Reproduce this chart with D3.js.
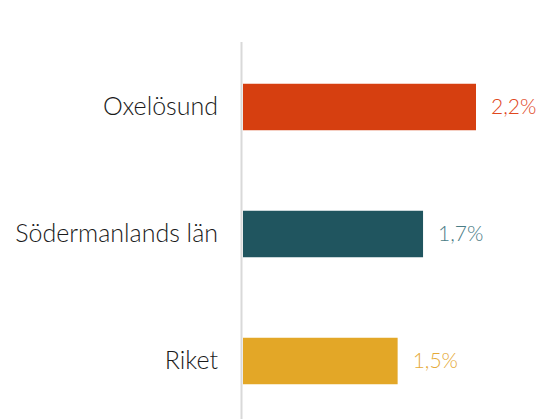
<!DOCTYPE html>
<html><head><meta charset="utf-8">
<script src="https://cdn.jsdelivr.net/npm/d3@7"></script>
<style>body{margin:0;background:#fff}svg{display:block}</style>
</head><body>
<script>
const categories = ["Oxelösund", "Södermanlands län", "Riket"];
const values = [2.2, 1.7, 1.46];
const valueLabels = ["2,2%", "1,7%", "1,5%"];
const barColors = ["#d63f10", "#20555f", "#e3a727"];
const labelColors = ["#e0481e", "#4a7d86", "#e5aa38"];

const W = 538, H = 419;
const svg = d3.select("body").append("svg").attr("width", W).attr("height", H);
const x = d3.scaleLinear().domain([0, 2.2]).range([243, 476]);
const y = d3.scaleBand().domain(categories).range([43.5, 424.5]).paddingInner(0.634).paddingOuter(0.317);

svg.append("line").attr("x1", 241.5).attr("x2", 241.5).attr("y1", 42).attr("y2", H)
  .attr("stroke", "#d9d9d9").attr("stroke-width", 2);

svg.selectAll("rect.bar").data(categories).join("rect").attr("class", "bar")
  .attr("x", x(0)).attr("y", d => y(d)).attr("width", (d, i) => x(values[i]) - x(0))
  .attr("height", y.bandwidth()).attr("fill", (d, i) => barColors[i]);

const font = "Lato, 'Open Sans', sans-serif";
svg.selectAll("text.cat").data(categories).join("text").attr("class", "cat")
  .attr("x", 218).attr("y", d => y(d) + y.bandwidth() / 2).attr("dy", "0.3em")
  .attr("text-anchor", "end").attr("font-family", font).attr("font-weight", 300)
  .attr("font-size", 25).attr("fill", "#1a1a1a").text(d => d);

svg.selectAll("text.val").data(categories).join("text").attr("class", "val")
  .attr("x", (d, i) => x(values[i]) + 15).attr("y", d => y(d) + y.bandwidth() / 2).attr("dy", "0.35em")
  .attr("font-family", font).attr("font-weight", 300)
  .attr("font-size", 21).attr("fill", (d, i) => labelColors[i]).text((d, i) => valueLabels[i]);
</script>
</body></html>
